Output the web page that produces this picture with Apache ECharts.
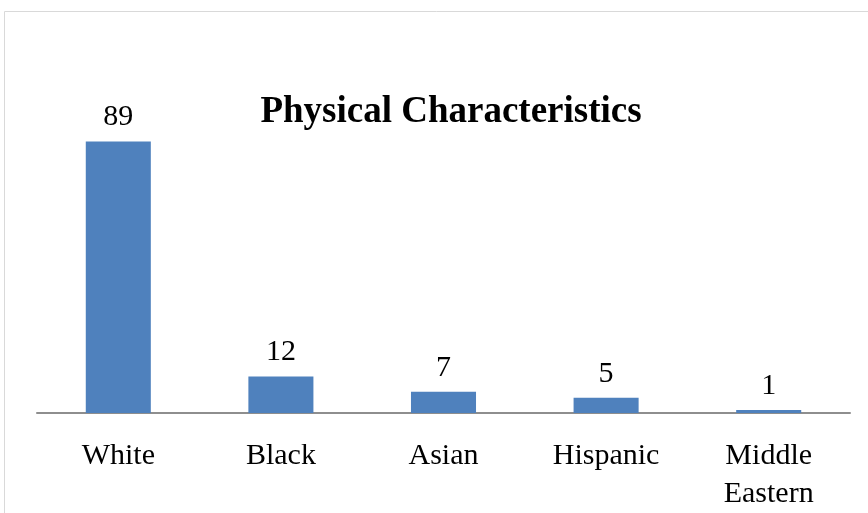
<!DOCTYPE html>
<html>
<head>
<meta charset="utf-8">
<script src="https://cdn.jsdelivr.net/npm/echarts@6/dist/echarts.min.js"></script>
<style>
  html, body { margin: 0; padding: 0; background: #fff; }
  #main { width: 868px; height: 513px; }
</style>
</head>
<body>
<div id="main"></div>
<script>
  // chart data
  var categories = ['White', 'Black', 'Asian', 'Hispanic', 'Middle\nEastern']
  var counts = [89, 12, 7, 5, 1]
  var titleText = 'Physical Characteristics'

  var serif = '"Liberation Serif", "Times New Roman", serif'
  var myChart = echarts.init(document.getElementById('main'))
  myChart.setOption({
    animation: false,
    title: {
      text: titleText,
      left: 446,
      top: 89,
      textAlign: 'center',
      textStyle: {
        fontFamily: serif,
        fontSize: 37,
        fontWeight: 'bold',
        color: '#000'
      }
    },
    graphic: [{
      type: 'rect',
      shape: { x: 4.5, y: 11.5, width: 880, height: 520 },
      style: { fill: 'none', stroke: '#d9d9d9', lineWidth: 1 },
      silent: true
    }],
    grid: {
      left: 37,
      right: 18,
      top: 108,
      bottom: 99
    },
    xAxis: {
      type: 'category',
      data: categories,
      axisTick: { show: false },
      axisLine: { lineStyle: { color: '#8e8e8e', width: 2 } },
      axisLabel: {
        interval: 0,
        margin: 24,
        fontFamily: serif,
        fontSize: 30,
        lineHeight: 38,
        color: '#000'
      }
    },
    yAxis: {
      type: 'value',
      min: 0,
      max: 100,
      show: false,
      splitLine: { show: false }
    },
    series: [{
      type: 'bar',
      data: counts,
      barWidth: '40%',
      itemStyle: { color: '#4f81bd' },
      label: {
        show: true,
        position: 'top',
        distance: 9,
        fontFamily: serif,
        fontSize: 30,
        color: '#000'
      }
    }]
  })
</script>
</body>
</html>
